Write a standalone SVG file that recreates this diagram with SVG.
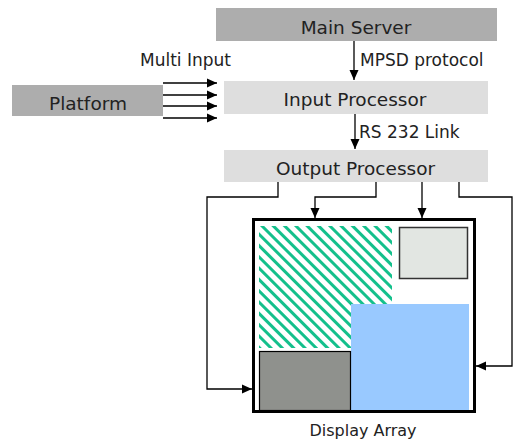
<svg xmlns="http://www.w3.org/2000/svg" width="513" height="443" viewBox="0 0 513 443">
<style>
.dark{fill:#adadad}
.light{fill:#dedede}
.nt{font-family:"DejaVu Sans",sans-serif;font-size:18.5px;fill:#222;text-anchor:middle}
.lt{font-family:"DejaVu Sans",sans-serif;font-size:17px;fill:#222}
.c{fill:none;stroke:#000;stroke-width:1.3}
</style>
<defs>
<marker id="a" markerUnits="userSpaceOnUse" markerWidth="10" markerHeight="10" viewBox="0 0 10 10" refX="10" refY="5" orient="auto">
<path d="M0,0.5 L10,5 L0,9.5 Z" fill="#000"/>
</marker>
<pattern id="h" width="8" height="8" patternUnits="userSpaceOnUse" patternTransform="rotate(-45)">
<rect width="8" height="8" fill="#fff"/>
<rect width="3" height="8" fill="#14c08c"/>
</pattern>
</defs>
<g id="main-server"><rect class="dark" x="216" y="8" width="281" height="33"/><text class="nt" x="356" y="34">Main Server</text></g>
<g id="platform"><rect class="dark" x="12" y="85" width="151" height="31"/><text class="nt" x="88" y="110">Platform</text></g>
<g id="input-processor"><rect class="light" x="224" y="81" width="264" height="33"/><text class="nt" x="355" y="106">Input Processor</text></g>
<g id="output-processor"><rect class="light" x="224" y="150" width="264" height="32"/><text class="nt" x="355.5" y="175">Output Processor</text></g>
<g id="display-array">
<rect x="253.5" y="219.5" width="221" height="192" fill="#fff" stroke="#000" stroke-width="3"/>
<rect x="259" y="226" width="133" height="122" fill="url(#h)"/>
<rect x="399.5" y="227.5" width="68" height="51" fill="#e2e6e2" stroke="#333" stroke-width="1.5"/>
<rect x="351" y="304" width="118" height="106" fill="#99c9ff"/>
<rect x="259.5" y="351.5" width="91" height="59" fill="#8f918d" stroke="#000" stroke-width="1.2"/>
<text class="lt" x="363" y="436" text-anchor="middle" style="font-size:16px">Display Array</text>
</g>
<g id="connectors">
<path class="c" d="M354 41 V80" marker-end="url(#a)"/>
<path class="c" d="M355 114 V149" marker-end="url(#a)"/>
<path class="c" d="M163 83 H217" marker-end="url(#a)"/>
<path class="c" d="M163 95 H217" marker-end="url(#a)"/>
<path class="c" d="M163 106 H217" marker-end="url(#a)"/>
<path class="c" d="M163 118 H217" marker-end="url(#a)"/>
<path class="c" d="M278 182 V197 H207 V389 H252" marker-end="url(#a)"/>
<path class="c" d="M376 182 V197 H315 V218" marker-end="url(#a)"/>
<path class="c" d="M422 182 V218" marker-end="url(#a)"/>
<path class="c" d="M459 182 V197 H512 V366 H476" marker-end="url(#a)"/>
</g>
<text class="lt" x="360" y="66">MPSD protocol</text>
<text class="lt" x="185.5" y="66" text-anchor="middle">Multi Input</text>
<text class="lt" x="359" y="138">RS 232 Link</text>
</svg>
